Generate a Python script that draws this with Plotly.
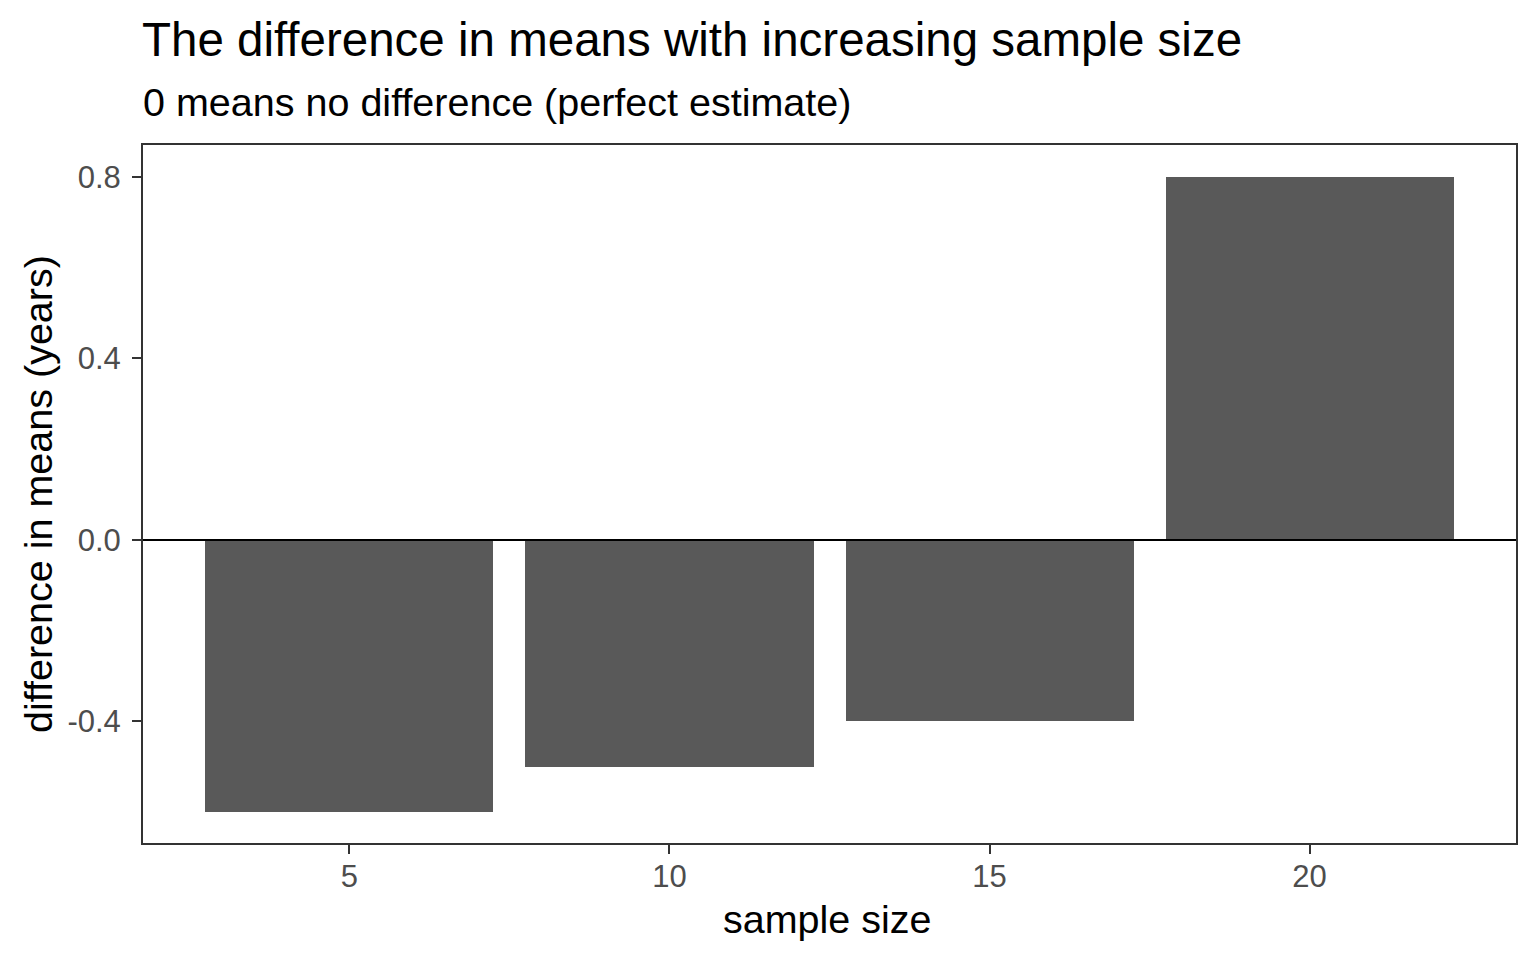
import plotly.graph_objects as go

# sample sizes and difference in means (years)
sample_size = [5, 10, 15, 20]
diff_means = [-0.6, -0.5, -0.4, 0.8]
y_ticks = [-0.4, 0.0, 0.4, 0.8]
y_labels = ["-0.4", "0.0", "0.4", "0.8"]
x_ticks = [5, 10, 15, 20]

title = "The difference in means with increasing sample size"
subtitle = "0 means no difference (perfect estimate)"
x_title = "sample size"
y_title = "difference in means (years)"

font = "Liberation Sans, Arial, sans-serif"

# page body has an 8px margin, so the figure is a bit smaller than the window
W, H = 1528, 952
L, R, T, B = 135, 20, 137, 117
pw, ph = W - L - R, H - T - B

fig = go.Figure()
fig.add_trace(go.Bar(x=sample_size, y=diff_means, width=4.5,
                     marker=dict(color="#595959", line=dict(width=0)),
                     showlegend=False))

fig.add_hline(y=0, line=dict(color="black", width=2))

fig.update_layout(
    width=W, height=H,
    margin=dict(l=L, r=R, t=T, b=B),
    plot_bgcolor="white", paper_bgcolor="white",
    font=dict(family=font, color="black"),
    bargap=0,
)
axis_style = dict(showgrid=False, zeroline=False,
                  showline=True, mirror=True, linecolor="#333333", linewidth=2,
                  ticks="outside", ticklen=9, tickwidth=2, tickcolor="#333333",
                  tickfont=dict(size=31, color="#4d4d4d", family=font))
fig.update_xaxes(range=[1.775, 23.225], tickvals=x_ticks, ticklabelstandoff=-4, **axis_style)
fig.update_yaxes(range=[-0.6678, 0.8705], tickvals=y_ticks, ticktext=y_labels,
                 ticklabelstandoff=5, **axis_style)

fig.add_annotation(text=title, xref="paper", yref="paper", x=-3 / pw, y=1 + (145 - 39) / ph,
                   xanchor="left", yanchor="middle", showarrow=False,
                   font=dict(size=47.5, color="black", family=font))
fig.add_annotation(text=subtitle, xref="paper", yref="paper", x=-2 / pw, y=1 + (145 - 102) / ph,
                   xanchor="left", yanchor="middle", showarrow=False,
                   font=dict(size=39.5, color="black", family=font))
fig.add_annotation(text=x_title, xref="paper", yref="paper", x=(827 - 143) / pw, y=-(919 - 843) / ph,
                   xanchor="center", yanchor="middle", showarrow=False,
                   font=dict(size=39.5, color="black", family=font))
fig.add_annotation(text=y_title, xref="paper", yref="paper", x=-(143 - 38) / pw, y=(843 - 494) / ph,
                   xanchor="center", yanchor="middle", showarrow=False, textangle=-90,
                   font=dict(size=39.5, color="black", family=font))

fig.write_html("out.html")
